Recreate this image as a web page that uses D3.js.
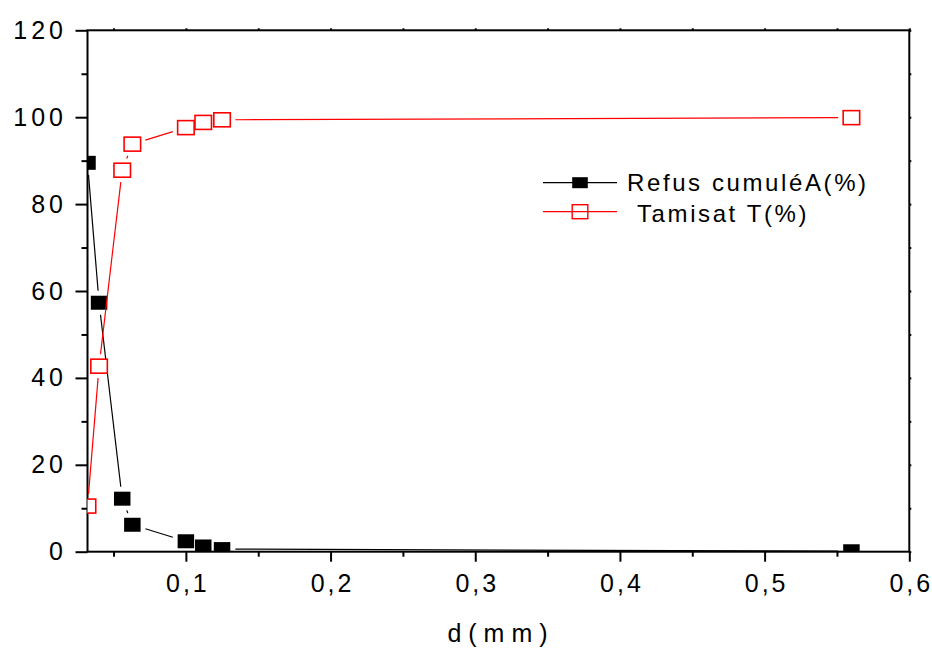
<!DOCTYPE html>
<html>
<head>
<meta charset="utf-8">
<script src="https://cdn.jsdelivr.net/npm/d3@7"></script>
<style>
  body { margin: 0; background: #fff; }
  svg { display: block; }
  text { font-family: "Liberation Sans", Arial, sans-serif; fill: #000; }
</style>
</head>
<body>
<script>
// Sieve analysis: cumulative retained vs passing
const dMM = [0.032, 0.04, 0.056, 0.063, 0.1, 0.112, 0.125, 0.56];
const refusCumule = [89.5, 57.3, 12.2, 6.2, 2.4, 1.2, 0.6, 0.1];
const tamisat = [10.5, 42.7, 87.8, 93.8, 97.6, 98.8, 99.4, 99.9];
const xMajor = [0.1, 0.2, 0.3, 0.4, 0.5, 0.6];
const xMinor = [0.05, 0.15, 0.25, 0.35, 0.45, 0.55];
const yMajor = [0, 20, 40, 60, 80, 100, 120];
const yMinor = [10, 30, 50, 70, 90, 110];
const seriesNames = ["Refus cumuléA(%)", "Tamisat T(%)"];

const W = 932, H = 648;
// plot frame (px)
const frame = {left: 87.5, right: 909.3, top: 30.3, bottom: 551.7};

const svg = d3.select("body").append("svg")
  .attr("width", W).attr("height", H);

const x = d3.scaleLinear().domain([0.032, 0.6]).range([frame.left, frame.right]);
const y = d3.scaleLinear().domain([0, 120]).range([frame.bottom, frame.top]);

const comma = d => d3.format(".1f")(d).replace(".", ",");

// clip for markers and lines
svg.append("defs").append("clipPath").attr("id", "plot")
  .append("rect").attr("x", frame.left).attr("y", frame.top)
  .attr("width", frame.right - frame.left).attr("height", frame.bottom - frame.top);

// ---- axes ----
const yAxis = svg.append("g").attr("transform", `translate(${frame.left},0)`)
  .call(d3.axisLeft(y).tickValues(yMajor).tickSize(12).tickSizeOuter(0)
    .tickPadding(8.5).tickFormat(d3.format("d")));
svg.append("g").attr("transform", `translate(${frame.left},0)`)
  .call(d3.axisLeft(y).tickValues(yMinor).tickSize(6).tickSizeOuter(0).tickFormat(""));

const xAxis = svg.append("g").attr("transform", `translate(0,${frame.bottom})`)
  .call(d3.axisBottom(x).tickValues(xMajor).tickSize(10).tickSizeOuter(0)
    .tickPadding(12.5).tickFormat(comma));
svg.append("g").attr("transform", `translate(0,${frame.bottom})`)
  .call(d3.axisBottom(x).tickValues(xMinor).tickSize(5).tickSizeOuter(0).tickFormat(""));

// tiny ticks on top and right
svg.append("g").attr("transform", `translate(0,${frame.top})`)
  .call(d3.axisTop(x).tickValues(xMajor.concat(xMinor)).tickSize(2).tickSizeOuter(0).tickFormat(""));
svg.append("g").attr("transform", `translate(${frame.right},0)`)
  .call(d3.axisRight(y).tickValues(yMajor.concat(yMinor)).tickSize(2).tickSizeOuter(0).tickFormat(""));

svg.selectAll(".domain").remove();
svg.selectAll(".tick line").attr("stroke", "#000").attr("stroke-width", 2);

yAxis.selectAll("text").attr("font-size", 25).style("letter-spacing", "4px");
xAxis.selectAll("text").attr("font-size", 25).style("letter-spacing", "3px")
  .attr("dx", 1.5);

// frame
svg.append("rect").attr("x", frame.left).attr("y", frame.top)
  .attr("width", frame.right - frame.left).attr("height", frame.bottom - frame.top)
  .attr("fill", "none").attr("stroke", "#000").attr("stroke-width", 2);

// axis title
svg.append("text").attr("x", 501).attr("y", 642)
  .attr("text-anchor", "middle").attr("font-size", 25)
  .style("letter-spacing", "7px").text("d(mm)");

// ---- series ----
const mw = 16.5, mh = 14, gap = 5;

// Origin style: line segments stop short of the symbols
function gappedSegments(xs, ys) {
  const pts = xs.map((d, i) => [x(d), y(ys[i])]);
  const segs = [];
  for (let i = 0; i < pts.length - 1; i++) {
    const [x0, y0] = pts[i], [x1, y1] = pts[i + 1];
    const dx = x1 - x0, dy = y1 - y0, len = Math.hypot(dx, dy);
    const ux = dx / len, uy = dy / len;
    const t = Math.min(ux ? (mw / 2) / Math.abs(ux) : Infinity,
                       uy ? (mh / 2) / Math.abs(uy) : Infinity) + gap;
    if (len > 2 * t) {
      segs.push([x0 + ux * t, y0 + uy * t, x1 - ux * t, y1 - uy * t]);
    }
  }
  return segs;
}

const plot = svg.append("g").attr("clip-path", "url(#plot)");

function drawSeries(vals, color, filled) {
  const g = plot.append("g");
  g.selectAll("line").data(gappedSegments(dMM, vals)).join("line")
    .attr("x1", d => d[0]).attr("y1", d => d[1])
    .attr("x2", d => d[2]).attr("y2", d => d[3])
    .attr("stroke", color).attr("stroke-width", 1.2);
  g.selectAll("rect").data(vals).join("rect")
    .attr("x", (d, i) => x(dMM[i]) - mw / 2)
    .attr("y", d => y(d) - mh / 2)
    .attr("width", mw).attr("height", mh)
    .attr("fill", filled ? color : "#fff")
    .attr("stroke", color).attr("stroke-width", filled ? 0 : 1.6);
}

drawSeries(refusCumule, "#000", true);
drawSeries(tamisat, "#ff0000", false);

// ---- legend ----
const legend = svg.append("g");
const legendRows = [
  {name: seriesNames[0], color: "#000", filled: true, ly: 182.7, tx: 627, ty: 191, h: 11},
  {name: seriesNames[1], color: "#ff0000", filled: false, ly: 211.7, tx: 637, ty: 222, h: 14}
];
legendRows.forEach(r => {
  legend.append("line").attr("x1", 543).attr("x2", 617)
    .attr("y1", r.ly).attr("y2", r.ly)
    .attr("stroke", r.color).attr("stroke-width", 1.2);
  legend.append("rect").attr("x", 580 - 7.8).attr("y", r.ly - r.h / 2)
    .attr("width", 15.6).attr("height", r.h)
    .attr("fill", r.filled ? r.color : "none")
    .attr("stroke", r.color).attr("stroke-width", r.filled ? 0 : 1.4);
  legend.append("text").attr("x", r.tx).attr("y", r.ty)
    .attr("font-size", 24).style("letter-spacing", "2.6px").text(r.name);
});
</script>
</body>
</html>
